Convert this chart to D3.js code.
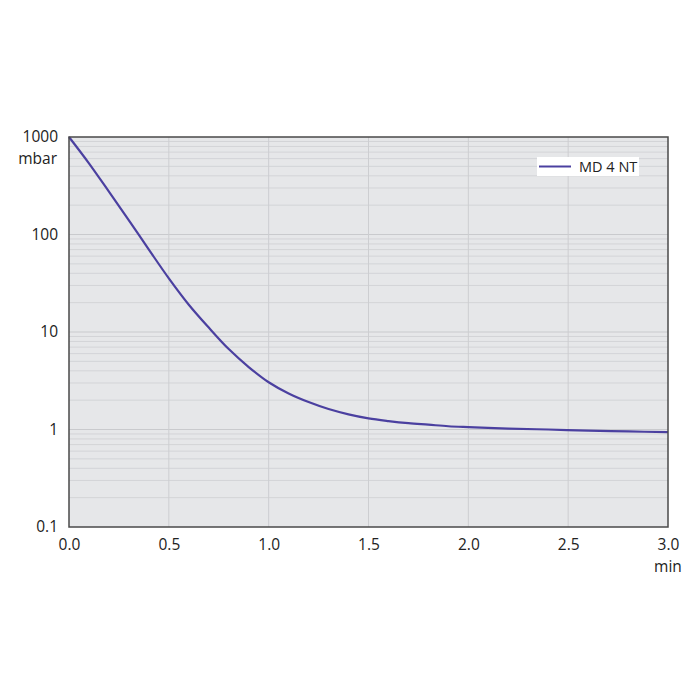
<!DOCTYPE html>
<html><head><meta charset="utf-8">
<script src="https://cdn.jsdelivr.net/npm/d3@7"></script>
<style>body{margin:0;background:#fff}svg{display:block}</style>
</head><body>
<svg id="c" width="700" height="700"></svg>
<script>
const times = [0,0.1,0.2,0.3,0.4,0.5,0.6,0.7,0.8,0.9,1.0,1.1,1.2,1.3,1.4,1.5,1.6,1.7,1.8,1.9,2.0,2.2,2.4,2.6,2.8,3.0];
const pressure = [1000,537,275,139.6,70,35.5,19.05,11.1,6.68,4.37,3.05,2.34,1.91,1.62,1.43,1.30,1.22,1.16,1.12,1.08,1.057,1.02,1.0,0.973,0.955,0.94];
const seriesName = "MD 4 NT";
const xTicks = [0,0.5,1.0,1.5,2.0,2.5,3.0];
const yTicks = [0.1,1,10,100,1000];
const yUnit = "mbar", xUnit = "min";

const svg = d3.select("#c");
const L=69, R=668, T=137, B=527;
const x = d3.scaleLinear().domain([0,3]).range([L,R]);
const y = d3.scaleLog().domain([0.1,1000]).range([B,T]);
const font = "'Open Sans', sans-serif";
const fs = 15.5;

svg.append("rect").attr("x",L).attr("y",T).attr("width",R-L).attr("height",B-T).attr("fill","#e6e7e9");

// minor horizontal grid
const minor = [];
for (let d=0.1; d<1000; d*=10) for (let k=2;k<=9;k++) minor.push(d*k);
svg.append("g").selectAll("line").data(minor).join("line")
  .attr("x1",L).attr("x2",R).attr("y1",d=>y(d)).attr("y2",d=>y(d))
  .attr("stroke","#d3d4d7").attr("stroke-width",1);
svg.append("g").selectAll("line").data(yTicks.slice(1,-1)).join("line")
  .attr("x1",L).attr("x2",R).attr("y1",d=>y(d)).attr("y2",d=>y(d))
  .attr("stroke","#c9cacd").attr("stroke-width",1);
svg.append("g").selectAll("line").data(xTicks.slice(1,-1)).join("line")
  .attr("x1",d=>x(d)).attr("x2",d=>x(d)).attr("y1",T).attr("y2",B)
  .attr("stroke","#cdced1").attr("stroke-width",1);

// curve
const line = d3.line().x((d,i)=>x(times[i])).y(d=>y(d)).curve(d3.curveCatmullRom);
svg.append("path").datum(pressure).attr("d",line).attr("fill","none")
  .attr("stroke","#4b40a0").attr("stroke-width",2.2);

// frame
svg.append("rect").attr("x",L).attr("y",T).attr("width",R-L).attr("height",B-T)
  .attr("fill","none").attr("stroke","#4a4a4a").attr("stroke-width",1.5);

// axes labels
const yAxis = d3.axisLeft(y).tickValues(yTicks).tickSize(0).tickPadding(11).tickFormat(d=>String(d));
const gy = svg.append("g").attr("transform",`translate(${L},0)`).call(yAxis);
gy.select(".domain").remove();
gy.selectAll("text").attr("font-family",font).attr("font-size",fs).attr("fill","#222");
svg.append("text").attr("x",L-12).attr("y",y(1000)+27).attr("text-anchor","end")
  .attr("font-family",font).attr("font-size",fs).attr("fill","#222").text(yUnit);

const xAxis = d3.axisBottom(x).tickValues(xTicks).tickSize(0).tickPadding(12).tickFormat(d3.format(".1f"));
const gx = svg.append("g").attr("transform",`translate(0,${B})`).call(xAxis);
gx.select(".domain").remove();
gx.selectAll("text").attr("font-family",font).attr("font-size",fs).attr("fill","#222");
svg.append("text").attr("x",x(3)).attr("y",B+45).attr("text-anchor","middle")
  .attr("font-family",font).attr("font-size",fs).attr("fill","#222").text(xUnit);

// legend
const lg = svg.append("g");
lg.append("rect").attr("x",537).attr("y",157).attr("width",102).attr("height",19).attr("fill","#fff");
lg.append("line").attr("x1",539).attr("x2",571).attr("y1",166.5).attr("y2",166.5)
  .attr("stroke","#4b40a0").attr("stroke-width",2);
lg.append("text").attr("x",579).attr("y",172).attr("font-family",font).attr("font-size",14.5)
  .attr("fill","#222").text(seriesName);
</script>
</body></html>
